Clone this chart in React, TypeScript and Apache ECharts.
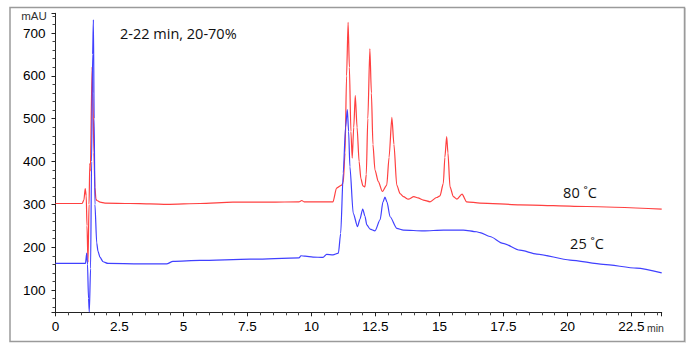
import React, { useEffect, useRef } from "react";
import * as echarts from "echarts";

// 80 °C trace (red)
const redTime = [
  0.0, 0.57, 1.04, 1.11, 1.16, 1.2, 1.23, 1.27, 1.31, 1.34, 1.36, 1.43, 1.46, 1.5, 1.54, 1.58, 1.62, 1.74, 1.93,
  2.91, 3.69, 4.36, 5.64, 6.93, 8.38, 9.51, 9.62, 9.71, 10.84, 10.98, 11.18, 11.24, 11.31, 11.37, 11.43, 11.48,
  11.54, 11.59, 11.65, 11.71, 11.78, 11.86, 11.93, 12.01, 12.09, 12.14, 12.2, 12.28, 12.34, 12.4, 12.48, 12.61,
  12.77, 12.94, 13.03, 13.14, 13.22, 13.33, 13.46, 13.59, 13.78, 14.0, 14.16, 14.37, 14.63, 14.89, 15.02, 15.15,
  15.21, 15.28, 15.33, 15.41, 15.54, 15.68, 15.88, 16.06, 16.58, 18.14, 20.75, 23.68,
];
const redSignal = [
  302, 302, 302, 310, 337, 320, 250, 165, 300, 395, 378, 621, 560, 420, 340, 312, 309, 305, 303,
  302, 301, 300, 302, 305, 305, 306, 309, 306, 306, 338, 345, 351, 420, 600, 725, 620,
  470, 408, 480, 554, 480, 400, 360, 343, 341, 370, 500, 663, 560, 440, 380, 353,
  330, 345, 410, 503, 440, 345, 325, 318, 312, 318, 315, 310, 306, 316, 320, 349,
  410, 458, 420, 341, 318, 312, 324, 306, 303, 299, 295, 289,
];

// 25 °C trace (blue)
const blueTime = [
  0.0, 0.96, 1.17, 1.22, 1.25, 1.29, 1.32, 1.37, 1.41, 1.45, 1.48, 1.51, 1.54, 1.61, 1.66, 1.74, 1.86, 2.05,
  3.3, 4.34, 4.59, 5.64, 7.6, 9.51, 9.59, 9.75, 10.06, 10.45, 10.59, 10.84, 11.05, 11.14, 11.24, 11.33, 11.4,
  11.45, 11.5, 11.63, 11.8, 11.89, 12.0, 12.09, 12.16, 12.29, 12.48, 12.68, 12.79, 12.87, 12.95, 13.07, 13.33,
  13.59, 14.37, 15.15, 15.93, 16.45, 16.58, 16.97, 17.48, 18.14, 18.8, 20.1, 21.39, 22.7, 23.68,
];
const blueSignal = [
  162, 162, 162, 186, 160, 80, 49, 150, 400, 650, 731, 500, 300, 210, 190, 176, 166, 162,
  161, 161, 167, 169, 172, 175, 180, 179, 177, 176, 183, 182, 186, 232, 373, 480, 521,
  470, 388, 279, 248, 265, 289, 272, 252, 242, 238, 264, 305, 317, 305, 271, 244,
  240, 238, 240, 240, 236, 234, 225, 209, 193, 184, 170, 160, 151, 140,
];

const xTickValues = [0, 2.5, 5, 7.5, 10, 12.5, 15, 17.5, 20, 22.5];
const yTickValues = [100, 200, 300, 400, 500, 600, 700];

const annotation = "2-22 min, 20-70%";
const redLabel = "80 \u02daC";
const blueLabel = "25 \u02daC";
const yUnit = "mAU";
const xUnit = "min";

const RED = "#ff4040";
const BLUE = "#4040ff";

function zip(t: number[], v: number[]) {
  return t.map((x, i) => [x, v[i]]);
}

function near(list: number[], v: number) {
  return list.some((t) => Math.abs(t - v) < 1e-6);
}

export default function App() {
  const ref = useRef<HTMLDivElement>(null);
  useEffect(() => {
    if (!ref.current) return;
    const chart = echarts.init(ref.current, undefined, { renderer: "svg" });
    const labelFont = { fontFamily: "Liberation Sans, Arial, sans-serif", fontSize: 13.5, color: "#000" };
    chart.setOption({
      animation: false,
      backgroundColor: "#fff",
      grid: { left: 55.5, right: 35.3, top: 13.3, bottom: 39.7, containLabel: false },
      xAxis: {
        type: "value",
        min: 0,
        max: 23.68,
        interval: 2.5,
        splitLine: { show: false },
        axisLine: { show: true, onZero: false, lineStyle: { color: "#222", width: 1 } },
        axisTick: { show: true, length: 4, lineStyle: { color: "#222" } },
        minorTick: { show: true, splitNumber: 5, length: 3, lineStyle: { color: "#444" } },
        axisLabel: {
          ...labelFont,
          margin: 7,
          showMaxLabel: false,
          formatter: (v: number) => (near(xTickValues, v) ? String(v) : ""),
        },
      },
      yAxis: {
        type: "value",
        min: 48,
        max: 746,
        splitNumber: 5,
        splitLine: { show: false },
        axisLine: { show: true, onZero: false, lineStyle: { color: "#222", width: 1 } },
        axisTick: { show: true, length: 4, lineStyle: { color: "#222" } },
        minorTick: { show: true, splitNumber: 5, length: 3, lineStyle: { color: "#444" } },
        axisLabel: {
          ...labelFont,
          margin: 10,
          showMinLabel: false,
          showMaxLabel: false,
          formatter: (v: number) => (near(yTickValues, v) ? String(v) : ""),
        },
      },
      series: [
        {
          name: redLabel,
          type: "line",
          data: zip(redTime, redSignal),
          showSymbol: false,
          smooth: 0.25,
          smoothMonotone: "x",
          lineStyle: { color: RED, width: 1.2 },
          itemStyle: { color: RED },
          z: 2,
        },
        {
          name: blueLabel,
          type: "line",
          data: zip(blueTime, blueSignal),
          showSymbol: false,
          smooth: 0.25,
          smoothMonotone: "x",
          lineStyle: { color: BLUE, width: 1.2 },
          itemStyle: { color: BLUE },
          z: 3,
        },
      ],
      graphic: [
        {
          type: "rect",
          shape: { x: 10, y: 7.5, width: 674.5, height: 334 },
          style: { fill: "none", stroke: "#9a9a9a", lineWidth: 1.5 },
          silent: true,
        },
        {
          type: "line",
          shape: { x1: 685.5, y1: 8, x2: 685.5, y2: 342.5 },
          style: { stroke: "#c8c8c8", lineWidth: 1 },
          silent: true,
        },
        {
          type: "text",
          x: 34,
          y: 16,
          style: { text: yUnit, fontFamily: "Liberation Sans, Arial, sans-serif", fontSize: 11.5, fill: "#333", align: "center", verticalAlign: "middle" },
        },
        {
          type: "text",
          x: 647,
          y: 328,
          style: { text: xUnit, fontFamily: "Liberation Sans, Arial, sans-serif", fontSize: 10.5, fill: "#333", align: "left", verticalAlign: "middle" },
        },
        {
          type: "text",
          x: 120,
          y: 33,
          style: { text: annotation, fontFamily: "Open Sans, sans-serif", fontSize: 14.5, fill: "#111", align: "left", verticalAlign: "middle" },
        },
        {
          type: "text",
          x: 580,
          y: 192,
          style: { text: redLabel, fontFamily: "Open Sans, sans-serif", fontSize: 14.5, fill: "#111", align: "center", verticalAlign: "middle" },
        },
        {
          type: "text",
          x: 587,
          y: 243,
          style: { text: blueLabel, fontFamily: "Open Sans, sans-serif", fontSize: 14.5, fill: "#111", align: "center", verticalAlign: "middle" },
        },
      ],
    });
    return () => chart.dispose();
  }, []);
  return <div ref={ref} style={{ position: "fixed", left: 0, top: 0, width: 697, height: 352 }} />;
}
